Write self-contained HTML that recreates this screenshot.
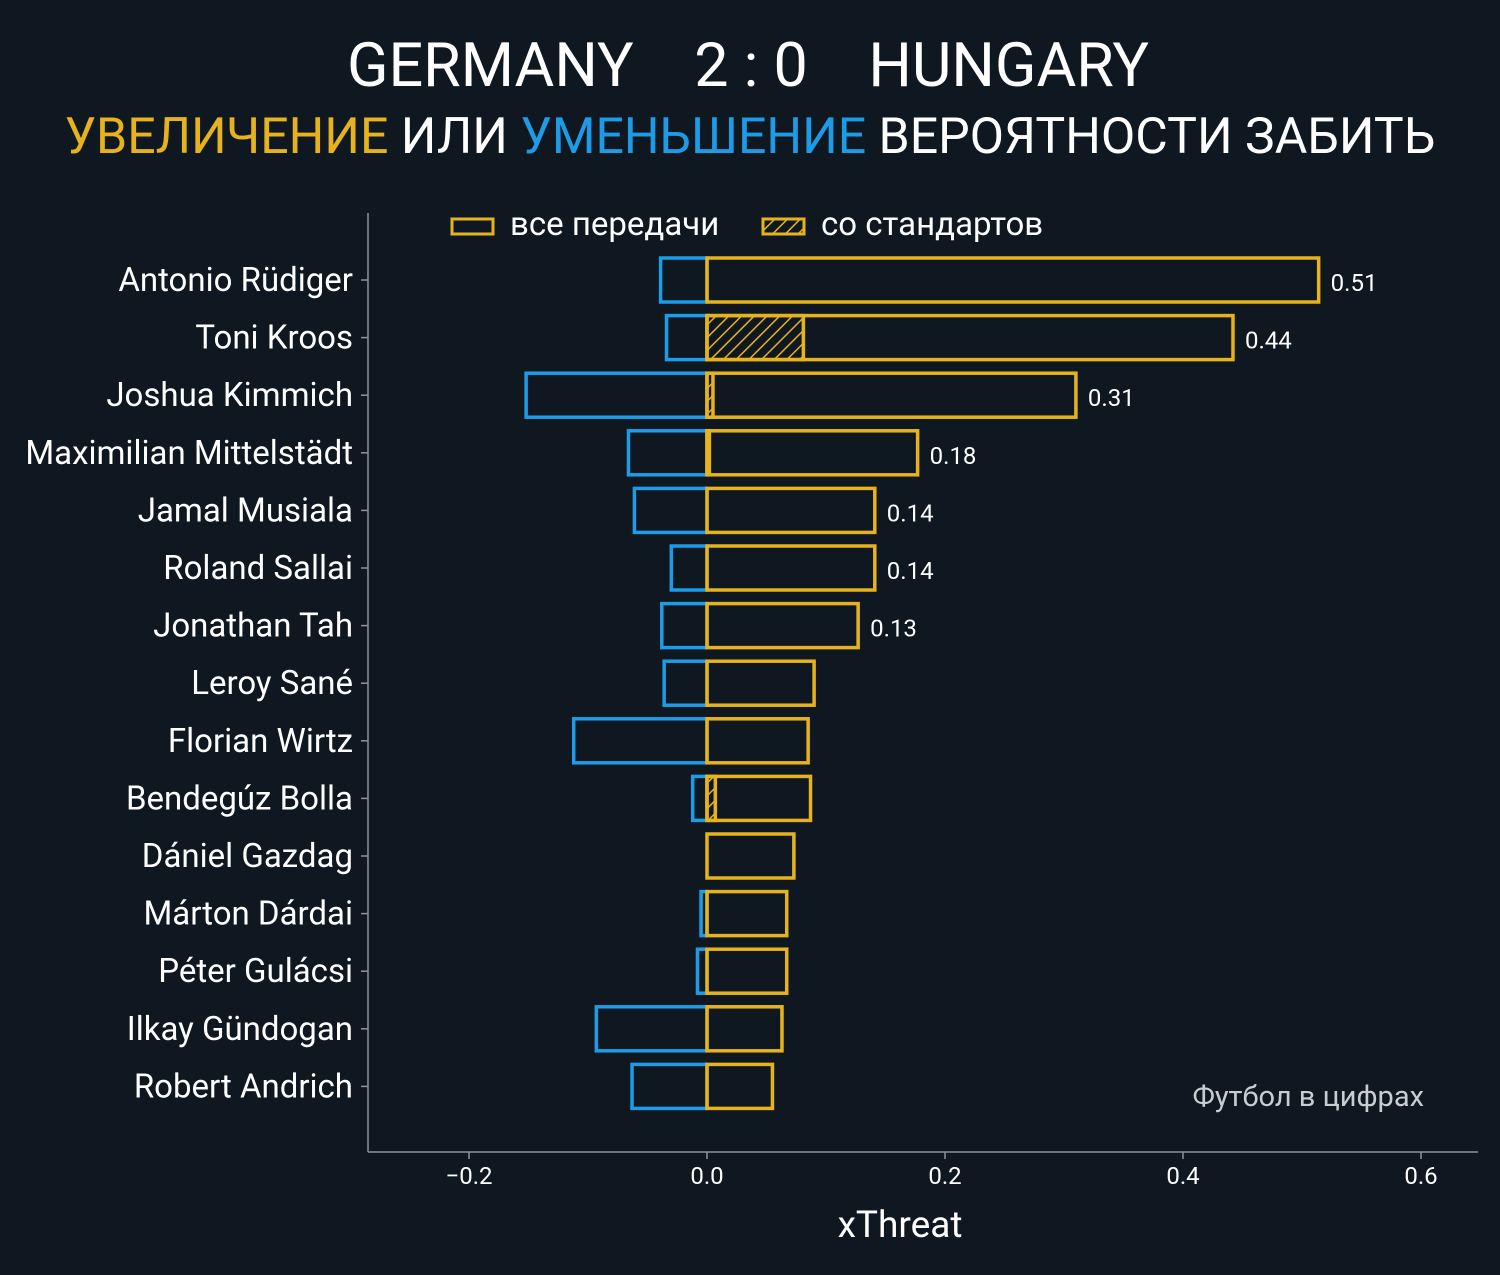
<!DOCTYPE html>
<html><head><meta charset="utf-8"><style>
html,body{margin:0;padding:0;background:#0f1820;}
svg{display:block;font-family:"Roboto","Liberation Sans","DejaVu Sans",sans-serif;}
</style></head><body>
<svg id="chart" width="1500" height="1275" viewBox="0 0 1500 1275" xmlns="http://www.w3.org/2000/svg">
<defs>
<pattern id="hatch" patternUnits="userSpaceOnUse" width="9" height="9" patternTransform="rotate(45)">
<rect width="9" height="9" fill="#0f1820"/>
<line x1="0" y1="0" x2="0" y2="9" stroke="#e6b31e" stroke-width="3"/>
</pattern>
</defs>
<rect width="1500" height="1275" fill="#0f1820"/>
<text x="748" y="86" text-anchor="middle" font-size="61" fill="#fff" xml:space="preserve">GERMANY    2 : 0    HUNGARY</text>
<text x="750" y="153" text-anchor="middle" font-size="50" fill="#fff"><tspan fill="#e6b31e">УВЕЛИЧЕНИЕ</tspan> ИЛИ <tspan fill="#1c9be6">УМЕНЬШЕНИЕ</tspan> ВЕРОЯТНОСТИ ЗАБИТЬ</text>
<g>
<rect x="452" y="219" width="41" height="15" fill="none" stroke="#e6b31e" stroke-width="3"/>
<text x="510" y="235" font-size="33" fill="#fff">все передачи</text>
<rect x="763" y="219" width="41" height="15" fill="url(#hatch)" stroke="#e6b31e" stroke-width="3"/>
<text x="821" y="235" font-size="33" fill="#fff">со стандартов</text>
</g>
<line x1="368" y1="213" x2="368" y2="1152" stroke="#8a949c" stroke-width="1.5"/>
<line x1="368" y1="1152" x2="1478" y2="1152" stroke="#8a949c" stroke-width="1.5"/>
<g id="marks"></g>
<text x="1424" y="1106" text-anchor="end" font-size="29" fill="#c8cdd2">Футбол в цифрах</text>
<text x="900" y="1237" text-anchor="middle" font-size="37" fill="#fff">xThreat</text>
</svg>
<script>
const players = ["Antonio Rüdiger","Toni Kroos","Joshua Kimmich","Maximilian Mittelstädt","Jamal Musiala","Roland Sallai","Jonathan Tah","Leroy Sané","Florian Wirtz","Bendegúz Bolla","Dániel Gazdag","Márton Dárdai","Péter Gulácsi","Ilkay Gündogan","Robert Andrich"];
const positiveValues = [0.514,0.442,0.310,0.177,0.141,0.141,0.127,0.090,0.085,0.087,0.073,0.067,0.067,0.063,0.055];
const setPieceValues = [0,0.081,0.005,0.002,0,0,0,0,0,0.007,0,0,0,0,0];
const negativeValues = [-0.039,-0.034,-0.152,-0.066,-0.061,-0.030,-0.038,-0.036,-0.112,-0.012,0,-0.005,-0.008,-0.093,-0.063];
const labelValues = ["0.51","0.44","0.31","0.18","0.14","0.14","0.13","","","","","","","",""];
const xTicks = [-0.2,0,0.2,0.4,0.6];
const xTickLabels = ["\u22120.2","0.0","0.2","0.4","0.6"];

const YEL="#e6b31e", BLU="#1c9be6";
const x = v => 707 + v*1190;
const y = i => 280 + i*57.6;
const BH = 44;
const ns="http://www.w3.org/2000/svg";
const g=document.getElementById('marks');
function mk(tag, attrs){const e=document.createElementNS(ns,tag);for(const k in attrs)e.setAttribute(k,attrs[k]);g.appendChild(e);return e;}

xTicks.forEach((t,i)=>{
  const tk=mk('line',{x1:x(t),x2:x(t),y1:1152,y2:1159,stroke:"#8a949c","stroke-width":1.5});
  
  
  const tl=mk('text',{x:x(t),y:1184,"text-anchor":"middle","font-size":24,fill:"#fff"});
  tl.textContent=xTickLabels[i];
  
  
});

players.forEach((p,i)=>{
  const cy=y(i);
  const tk=mk('line',{x1:361,x2:368,y1:cy,y2:cy,stroke:"#8a949c","stroke-width":1.5});
  
  
  const lb=mk('text',{x:353,y:cy+11,"text-anchor":"end","font-size":33,fill:"#fff"});
  lb.textContent=p;
  
  
  const n=negativeValues[i];
  if(n<0){
    const r=mk('rect',{x:x(n),y:cy-BH/2,width:x(0)-x(n),height:BH,fill:"none",stroke:BLU,"stroke-width":3.5});
    
    
  }
  const s=setPieceValues[i];
  if(s>0){
    const h=mk('rect',{x:x(0),y:cy-BH/2,width:x(s)-x(0),height:BH,fill:"url(#hatch)",stroke:YEL,"stroke-width":3.5});
    
    
  }
  const v=positiveValues[i];
  const r2=mk('rect',{x:x(0),y:cy-BH/2,width:x(v)-x(0),height:BH,fill:"none",stroke:YEL,"stroke-width":3.5});
  
  
  if(labelValues[i]){
    const vl=mk('text',{x:x(v)+12,y:cy+11,"font-size":24,fill:"#fff"});
    vl.textContent=labelValues[i];
    
    
  }
});
</script>
</body></html>
